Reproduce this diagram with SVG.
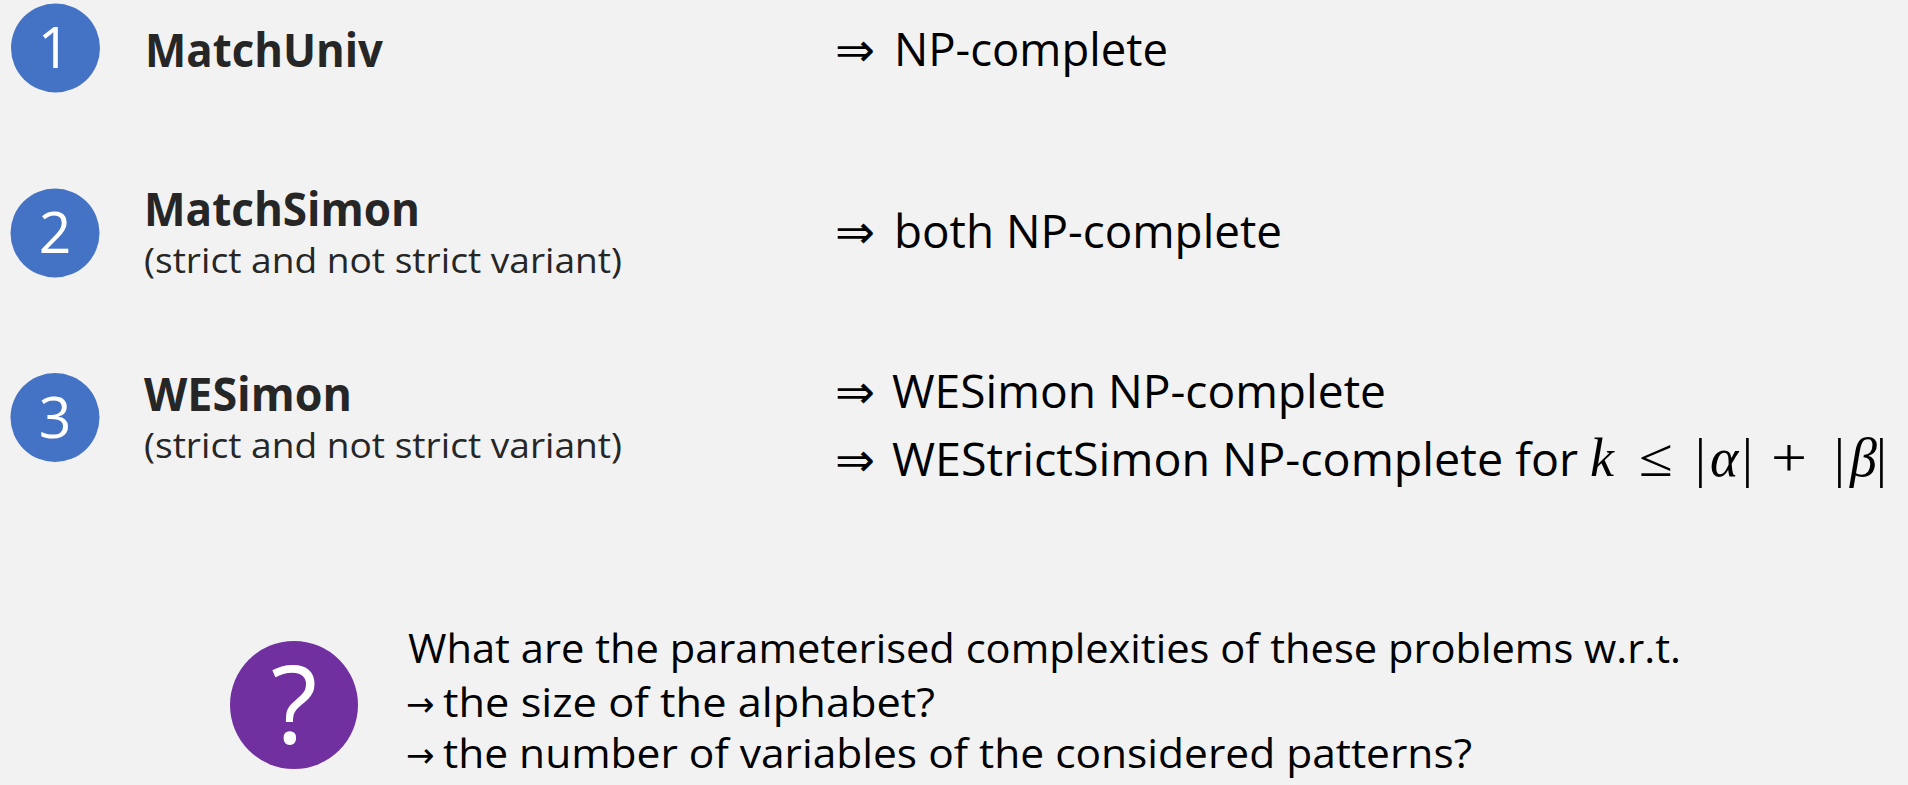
<svg xmlns="http://www.w3.org/2000/svg" width="1908" height="785" viewBox="0 0 1908 785">
  <style>
    .badge { fill: #4472C4; }
    .num { font-family: "Open Sans", "Liberation Sans", sans-serif; font-size: 57px; fill: #FFFFFF; text-anchor: middle; }
    .title { font-family: "Open Sans", "Liberation Sans", sans-serif; font-size: 47px; font-weight: bold; fill: #262626; }
    .sub { font-family: "Open Sans", "Liberation Sans", sans-serif; font-size: 34px; fill: #262626; }
    .res { font-family: "Open Sans", "Liberation Sans", sans-serif; font-size: 46px; fill: #000000; }
    .arr { font-family: "DejaVu Sans", sans-serif; }
    .small-arr { font-family: "DejaVu Sans", sans-serif; font-size: 34px; }
    .math { font-family: "Liberation Serif", "DejaVu Serif", serif; font-size: 54px; fill: #000000; }
    .q { font-family: "Open Sans", "Liberation Sans", sans-serif; font-size: 40px; fill: #000000; }
  </style>
  <rect x="0" y="0" width="1908" height="785" fill="#F2F2F2"/>

  <!-- problem 1 -->
  <g id="item1">
    <circle class="badge" cx="55.5" cy="48" r="44.5"/>
    <text class="num" x="54" y="68">1</text>
    <text class="title" x="145" y="66.7" textLength="238" lengthAdjust="spacingAndGlyphs">MatchUniv</text>
  </g>
  <g id="result1">
    <text class="res" x="835" y="65.7"><tspan class="arr" textLength="40" lengthAdjust="spacingAndGlyphs">⇒</tspan><tspan x="894" textLength="274" lengthAdjust="spacingAndGlyphs">NP-complete</tspan></text>
  </g>

  <!-- problem 2 -->
  <g id="item2">
    <circle class="badge" cx="55" cy="233" r="44.5"/>
    <text class="num" x="55" y="253">2</text>
    <text class="title" x="144" y="225.7" textLength="276" lengthAdjust="spacingAndGlyphs">MatchSimon</text>
    <text class="sub" x="144" y="273" textLength="478" lengthAdjust="spacingAndGlyphs">(strict and not strict variant)</text>
  </g>
  <g id="result2">
    <text class="res" x="835" y="248.3"><tspan class="arr" textLength="40" lengthAdjust="spacingAndGlyphs">⇒</tspan><tspan x="894" textLength="388" lengthAdjust="spacingAndGlyphs">both NP-complete</tspan></text>
  </g>

  <!-- problem 3 -->
  <g id="item3">
    <circle class="badge" cx="55" cy="417.5" r="44.5"/>
    <text class="num" x="55" y="438">3</text>
    <text class="title" x="144" y="410.7" textLength="208" lengthAdjust="spacingAndGlyphs">WESimon</text>
    <text class="sub" x="144" y="458" textLength="478" lengthAdjust="spacingAndGlyphs">(strict and not strict variant)</text>
  </g>
  <g id="result3">
    <text class="res" x="835" y="408.3"><tspan class="arr" textLength="40" lengthAdjust="spacingAndGlyphs">⇒</tspan><tspan x="892" textLength="494" lengthAdjust="spacingAndGlyphs">WESimon NP-complete</tspan></text>
    <text class="res" x="835" y="476"><tspan class="arr" textLength="40" lengthAdjust="spacingAndGlyphs">⇒</tspan><tspan x="892" textLength="686" lengthAdjust="spacingAndGlyphs">WEStrictSimon NP-complete for</tspan></text>
    <text class="math" y="476"><tspan x="1590" font-style="italic">k</tspan><tspan x="1639" textLength="34" lengthAdjust="spacingAndGlyphs">≤</tspan><tspan x="1695">|</tspan><tspan x="1710" font-style="italic">α</tspan><tspan x="1742">|</tspan><tspan x="1771" textLength="36" lengthAdjust="spacingAndGlyphs">+</tspan><tspan x="1834">|</tspan><tspan x="1850" font-style="italic">β</tspan><tspan x="1876">|</tspan></text>
  </g>

  <!-- open question -->
  <g id="question">
    <circle cx="294" cy="705" r="64" fill="#7030A0"/>
    <text x="294" y="744" font-family="Open Sans, Liberation Sans, sans-serif" font-size="108" fill="#FFFFFF" text-anchor="middle">?</text>
    <text class="q" x="408" y="663" textLength="1273" lengthAdjust="spacingAndGlyphs">What are the parameterised complexities of these problems w.r.t.</text>
    <text class="q" x="406" y="717"><tspan class="small-arr" dy="-1">→</tspan><tspan x="443" dy="1" textLength="492" lengthAdjust="spacingAndGlyphs">the size of the alphabet?</tspan></text>
    <text class="q" x="406" y="768"><tspan class="small-arr" dy="-1">→</tspan><tspan x="443" dy="1" textLength="1029" lengthAdjust="spacingAndGlyphs">the number of variables of the considered patterns?</tspan></text>
  </g>
</svg>
